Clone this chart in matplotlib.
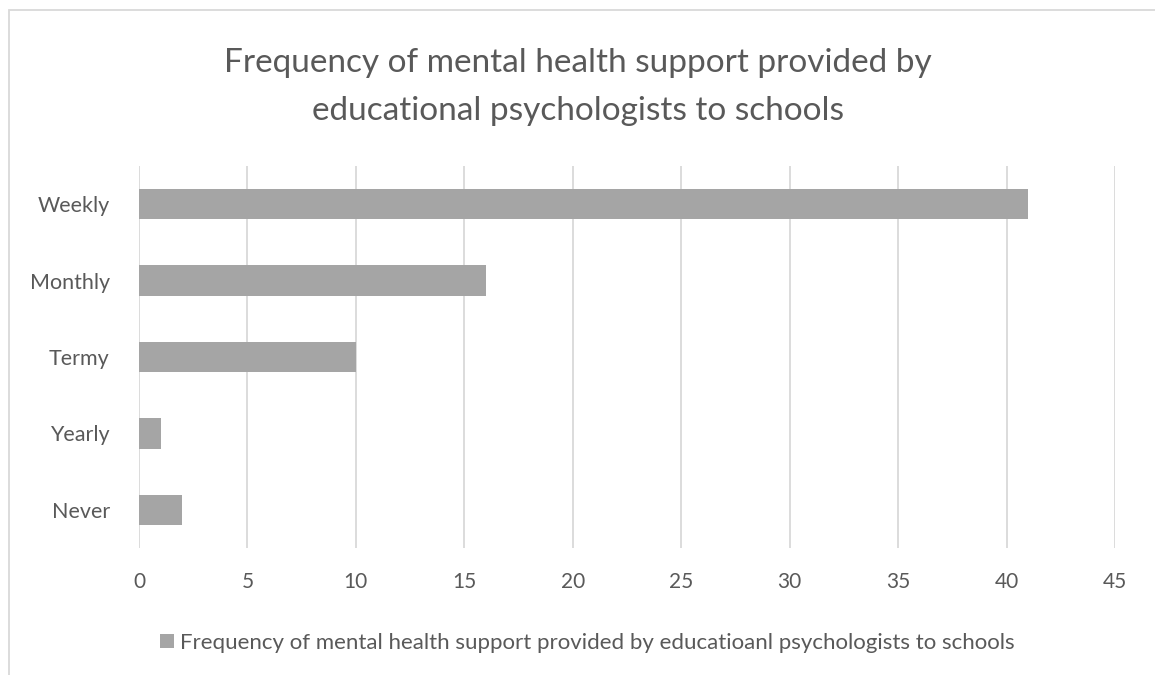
import matplotlib.pyplot as plt
from matplotlib.patches import Rectangle

plt.rcParams['font.family'] = ['Lato', 'DejaVu Sans']

categorias = ["Weekly", "Monthly", "Termy", "Yearly", "Never"]
valores = [41, 16, 10, 1, 2]
ticks_x = [0, 5, 10, 15, 20, 25, 30, 35, 40, 45]

titulo = "Frequency of mental health support provided by\neducational psychologists to schools"
leyenda = "Frequency of mental health support provided by educatioanl psychologists to schools"

gris_barra = "#a5a5a5"
gris_texto = "#595959"
gris_rejilla = "#d9d9d9"

fig = plt.figure(figsize=(11.55, 6.75), dpi=100)
ax = fig.add_axes([139 / 1155, 1 - 548 / 675, (1115 - 139) / 1155, (548 - 166) / 675])

pos = list(range(len(categorias)))
ax.barh(pos, valores, height=0.4, color=gris_barra, label=leyenda, zorder=3)
ax.set_yticks(pos)
ax.set_yticklabels(categorias)
ax.set_ylim(len(categorias) - 0.5, -0.5)
ax.set_xlim(0, 45)
ax.set_xticks(ticks_x)

for s in ax.spines.values():
    s.set_visible(False)
ax.grid(axis="x", color=gris_rejilla, linewidth=1.3, zorder=0)
ax.tick_params(axis="both", length=0, labelsize=15, colors=gris_texto)
ax.tick_params(axis="y", pad=21, labelsize=15.5)
ax.tick_params(axis="x", pad=17)

fig.text(0.5, 1 - 87 / 675, titulo, ha="center", va="center", fontsize=24,
         color=gris_texto, linespacing=1.75)

fig.legend(loc="center", bbox_to_anchor=(587 / 1155, 1 - 643 / 675), frameon=False,
           fontsize=16, labelcolor=gris_texto, handlelength=0.62, handleheight=0.62,
           handletextpad=0.27)

# marco del grafico
fig.patches.append(Rectangle((9 / 1155, -0.1), 1.2, 1 - 10 / 675 + 0.1, transform=fig.transFigure,
                             fill=False, edgecolor=gris_rejilla, linewidth=1.3))

fig.savefig("out.png", dpi=100)
